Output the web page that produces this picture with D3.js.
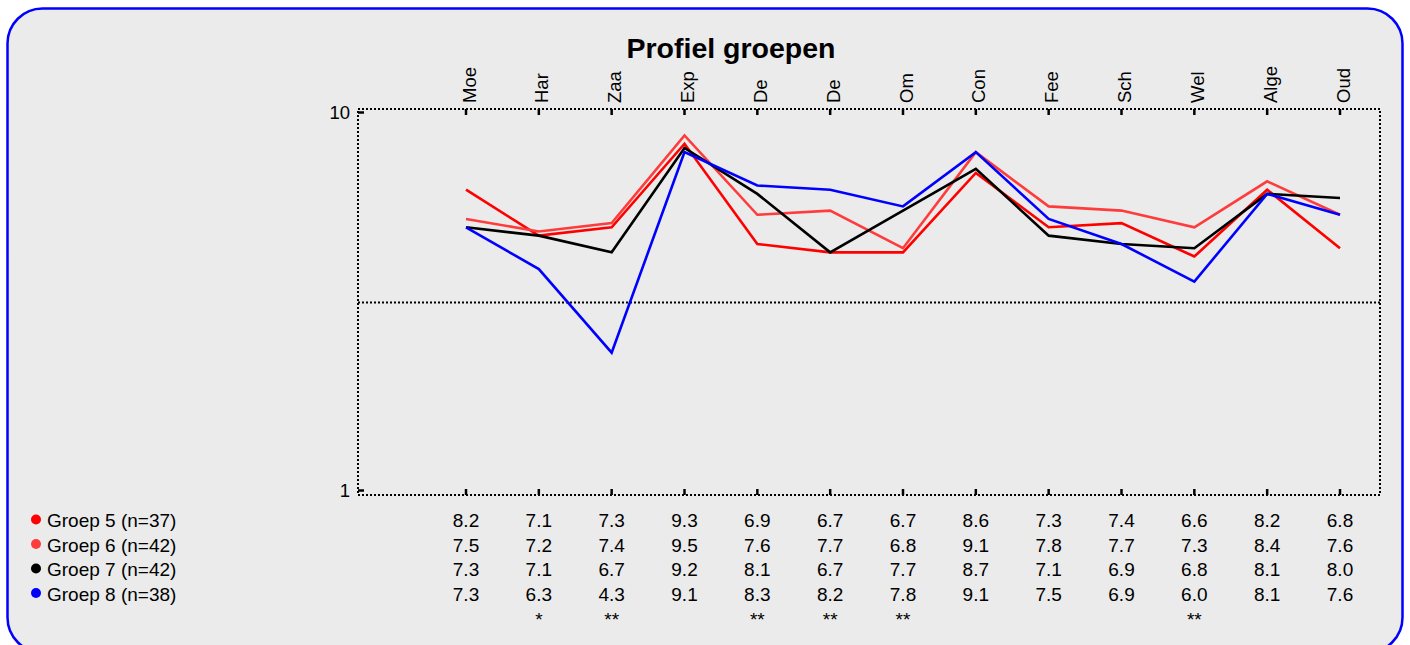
<!DOCTYPE html>
<html>
<head>
<meta charset="utf-8">
<script src="https://cdn.jsdelivr.net/npm/d3@7"></script>
<style>
  body { margin: 0; background: #fff; overflow: hidden; }
  text { font-family: "Liberation Sans", Arial, sans-serif; fill: #000; }
</style>
</head>
<body>
<script>
// categories along the top
var categories = ['Moe', 'Har', 'Zaa', 'Exp', 'De', 'De', 'Om', 'Con', 'Fee', 'Sch', 'Wel', 'Alge', 'Oud'];

var groupNames = ['Groep 5 (n=37)', 'Groep 6 (n=42)', 'Groep 7 (n=42)', 'Groep 8 (n=38)'];
var groupColors = ['#ff0000', '#ff3c3c', '#000000', '#0000ff'];

var groep5 = [8.2, 7.1, 7.3, 9.3, 6.9, 6.7, 6.7, 8.6, 7.3, 7.4, 6.6, 8.2, 6.8];
var groep6 = [7.5, 7.2, 7.4, 9.5, 7.6, 7.7, 6.8, 9.1, 7.8, 7.7, 7.3, 8.4, 7.6];
var groep7 = [7.3, 7.1, 6.7, 9.2, 8.1, 6.7, 7.7, 8.7, 7.1, 6.9, 6.8, 8.1, 8.0];
var groep8 = [7.3, 6.3, 4.3, 9.1, 8.3, 8.2, 7.8, 9.1, 7.5, 6.9, 6.0, 8.1, 7.6];

var significance = ['', '*', '**', '', '**', '**', '**', '', '', '', '**', '', ''];

var yTicks = [1, 10];
var refLine = [5.5];

var series = [groep5, groep6, groep7, groep8];

var W = 1410, H = 645;

var svg = d3.select('body').append('svg')
  .attr('width', W)
  .attr('height', H);

// panel (bottom edge runs off the picture)
svg.append('rect')
  .attr('x', 7.5)
  .attr('y', 8.5)
  .attr('width', 1395)
  .attr('height', 644)
  .attr('rx', 35)
  .attr('ry', 35)
  .attr('fill', '#ebebeb')
  .attr('stroke', '#0000ff')
  .attr('stroke-width', 2.5);

var x = d3.scaleLinear().domain([0, categories.length - 1]).range([466, 1340]);
var y = d3.scaleLinear().domain([1, 10]).range([490.5, 114.5]);

var frame = { left: 358, right: 1380, top: 109, bottom: 495 };

// title
svg.append('text')
  .attr('x', 731)
  .attr('y', 58)
  .attr('text-anchor', 'middle')
  .style('font-size', '28.5px')
  .style('font-weight', 'bold')
  .text('Profiel groepen');

// dotted frame
svg.append('rect')
  .attr('x', frame.left)
  .attr('y', frame.top)
  .attr('width', frame.right - frame.left)
  .attr('height', frame.bottom - frame.top)
  .attr('fill', 'none')
  .attr('stroke', '#000')
  .attr('stroke-width', 2)
  .attr('stroke-dasharray', '2,2');

// reference line in the middle
svg.selectAll('.ref')
  .data(refLine)
  .enter().append('line')
  .attr('x1', frame.left)
  .attr('x2', frame.right)
  .attr('y1', function(d) { return y(d); })
  .attr('y2', function(d) { return y(d); })
  .attr('stroke', '#000')
  .attr('stroke-width', 2)
  .attr('stroke-dasharray', '2,2');

// y ticks + labels
var yt = svg.selectAll('.ytick')
  .data(yTicks)
  .enter().append('g');

yt.append('line')
  .attr('x1', frame.left)
  .attr('x2', frame.left + 6)
  .attr('y1', function(d) { return y(d) - (d == 10 ? 2 : 0); })
  .attr('y2', function(d) { return y(d) - (d == 10 ? 2 : 0); })
  .attr('stroke', '#000')
  .attr('stroke-width', 2.5);

yt.append('text')
  .attr('x', 350)
  .attr('y', function(d) { return y(d) - (d == 10 ? 2 : 0) + 6.5; })
  .attr('text-anchor', 'end')
  .style('font-size', '18.5px')
  .text(function(d) { return d; });

// category ticks top and bottom
svg.selectAll('.ttop')
  .data(categories)
  .enter().append('line')
  .attr('x1', function(d, i) { return x(i); })
  .attr('x2', function(d, i) { return x(i); })
  .attr('y1', frame.top)
  .attr('y2', frame.top + 6)
  .attr('stroke', '#000')
  .attr('stroke-width', 2.5);

svg.selectAll('.tbot')
  .data(categories)
  .enter().append('line')
  .attr('x1', function(d, i) { return x(i); })
  .attr('x2', function(d, i) { return x(i); })
  .attr('y1', frame.bottom)
  .attr('y2', frame.bottom - 6)
  .attr('stroke', '#000')
  .attr('stroke-width', 2.5);

// category labels, rotated
svg.selectAll('.cat')
  .data(categories)
  .enter().append('text')
  .attr('transform', function(d, i) { return 'translate(' + (x(i) + 9.5) + ',103) rotate(-90)'; })
  .attr('text-anchor', 'start')
  .style('font-size', '18.5px')
  .text(function(d) { return d; });

// lines
var line = d3.line()
  .x(function(d, i) { return x(i); })
  .y(function(d) { return y(d); });

svg.selectAll('.serie')
  .data(series)
  .enter().append('path')
  .attr('d', line)
  .attr('fill', 'none')
  .attr('stroke', function(d, i) { return groupColors[i]; })
  .attr('stroke-width', 2.6)
  .attr('stroke-linejoin', 'miter');

// legend + value table
var rowY = [527, 551.5, 576, 600.5];

var rows = svg.selectAll('.row')
  .data(series)
  .enter().append('g');

rows.append('circle')
  .attr('cx', 36)
  .attr('cy', function(d, i) { return rowY[i] - 7.5; })
  .attr('r', 5)
  .attr('fill', function(d, i) { return groupColors[i]; });

rows.append('text')
  .attr('x', 47)
  .attr('y', function(d, i) { return rowY[i]; })
  .style('font-size', '19px')
  .text(function(d, i) { return groupNames[i]; });

rows.each(function(vals, r) {
  d3.select(this).selectAll('.val')
    .data(vals)
    .enter().append('text')
    .attr('x', function(d, i) { return x(i); })
    .attr('y', rowY[r])
    .attr('text-anchor', 'middle')
    .style('font-size', '19px')
    .text(function(d) { return d.toFixed(1); });
});

svg.selectAll('.sig')
  .data(significance)
  .enter().append('text')
  .attr('x', function(d, i) { return x(i); })
  .attr('y', 626)
  .attr('text-anchor', 'middle')
  .style('font-size', '19px')
  .text(function(d) { return d; });
</script>
</body>
</html>
